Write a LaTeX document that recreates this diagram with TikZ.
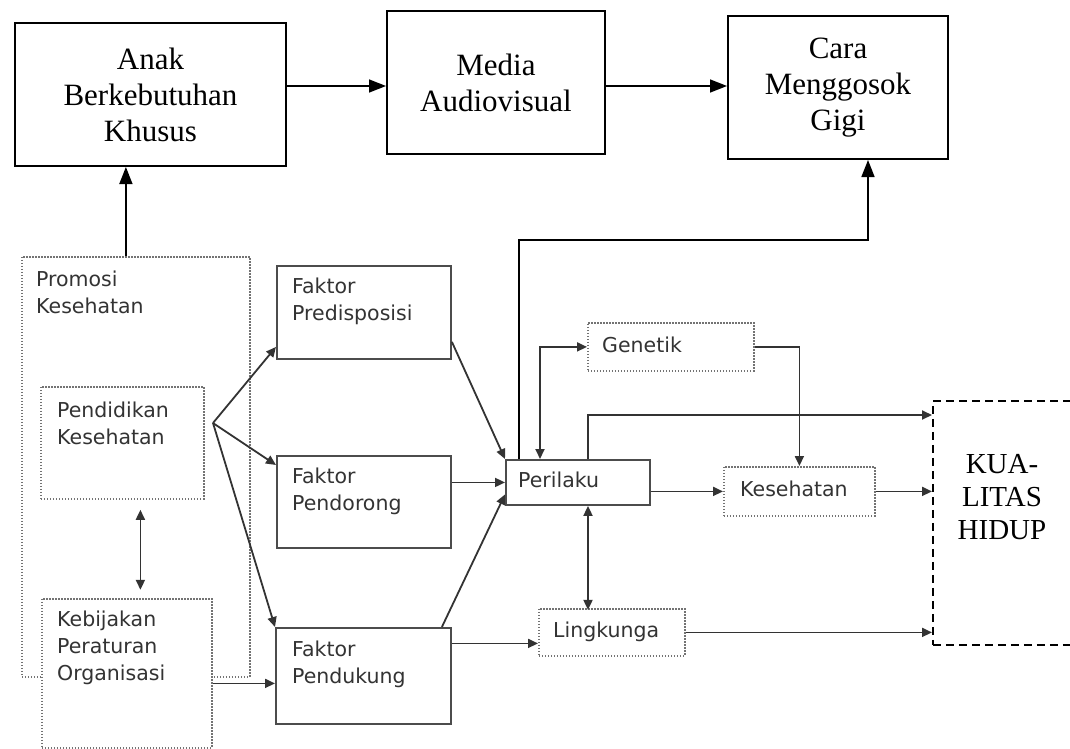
\documentclass[tikz,border=0pt]{standalone}
\usepackage{fontspec}
\setmainfont{Liberation Serif}
\newfontfamily\verdfont{DejaVu Sans}
\usetikzlibrary{positioning,arrows.meta}

\begin{document}
\begin{tikzpicture}[x=1pt,y=-1pt,
    topbox/.style={draw,line width=2pt,align=center,inner sep=0pt,anchor=north west,
      font=\fontsize{31}{36}\selectfont},
    solidbox/.style={draw=black!70,line width=1.9pt,inner sep=0pt,anchor=north west},
    dotbox/.style={draw=black!55,dash pattern=on 1.5pt off 1.5pt,line width=1.8pt,inner sep=0pt,anchor=north west},
    txt/.style={align=left,inner sep=0pt,text=black!80,
      font=\verdfont\fontsize{20.5}{27}\selectfont},
    bigarrow/.style={-{Triangle[length=17pt,width=13pt]},line width=1.6pt},
    arrow/.style={-{Triangle[length=10pt,width=9pt]},draw=black!80,line width=1.8pt},
    twoarrow/.style={{Triangle[length=10pt,width=9pt]}-{Triangle[length=10pt,width=9pt]},
      draw=black!80,line width=1.8pt}]
  \useasboundingbox (0,0) rectangle (1070,749);

  % top row
  \node[topbox,minimum width=271pt,minimum height=143pt] (anak) at (14,22) {Anak\\Berkebutuhan\\Khusus};
  \node[topbox,minimum width=218pt,minimum height=143pt] (media) at (386,10) {Media\\Audiovisual};
  \node[topbox,minimum width=220pt,minimum height=143pt] (cara) at (727,15) {Cara\\Menggosok\\Gigi};
  \draw[bigarrow] ([yshift=8.5pt]anak.east) -- ([yshift=8.5pt]anak.east -| media.west);
  \draw[bigarrow] ([yshift=-3.5pt]media.east) -- ([yshift=-3.5pt]media.east -| cara.west);

  % left column
  \node[dotbox,minimum width=228pt,minimum height=420pt] (promosi) at (21,256) {};
  \node[txt,below right=15pt and 15pt of promosi.north west] (promositext) {Promosi\\Kesehatan};
  \node[dotbox,minimum width=163pt,minimum height=112pt] (pendidikan) at (40,386) {};
  \node[txt,below right=16pt and 17pt of pendidikan.north west] (pendidikantext) {Pendidikan\\Kesehatan};
  \node[dotbox,fill=white,minimum width=170pt,minimum height=149pt] (kebijakan) at (41,598) {};
  \node[txt,below right=13pt and 16pt of kebijakan.north west] (kebijakantext) {Kebijakan\\Peraturan\\Organisasi};

  % faktor
  \node[solidbox,minimum width=174pt,minimum height=93pt] (pred) at (276,265) {};
  \node[txt,below right=13pt and 16pt of pred.north west] (predtext) {Faktor\\Predisposisi};
  \node[solidbox,minimum width=174pt,minimum height=92pt] (pendorong) at (276,455) {};
  \node[txt,below right=13pt and 16pt of pendorong.north west] (pendorongtext) {Faktor\\Pendorong};
  \node[solidbox,minimum width=175pt,minimum height=96pt] (pendukung) at (275,627) {};
  \node[txt,below right=14pt and 17pt of pendukung.north west] (pendukungtext) {Faktor\\Pendukung};

  % middle and right
  \node[solidbox,minimum width=144pt,minimum height=45pt] (perilaku) at (505,459) {};
  \node[txt,below right=13pt and 13pt of perilaku.north west] (perilakutext) {Perilaku};
  \node[dotbox,minimum width=166pt,minimum height=48pt] (genetik) at (587,322) {};
  \node[txt,below right=15pt and 15pt of genetik.north west] (genetiktext) {Genetik};
  \node[dotbox,minimum width=151pt,minimum height=49pt] (kesehatan) at (723,466) {};
  \node[txt,below right=15pt and 17pt of kesehatan.north west] (kesehatantext) {Kesehatan};
  \node[dotbox,minimum width=146pt,minimum height=47pt] (lingkunga) at (538,608) {};
  \node[txt,below right=14pt and 15pt of lingkunga.north west] (lingkungatext) {Lingkunga};
  \node[draw,line width=1.8pt,dash pattern=on 8pt off 5pt,inner sep=0pt,anchor=north west,
    minimum width=142pt,minimum height=244pt] (kualitas) at (932,400) {};
  \node[align=center,inner sep=0pt,font=\fontsize{29}{33}\selectfont] (kualitastext) at (1002,497) {KUA-\\LITAS\\HIDUP};

  % connectors
  \draw[bigarrow] ([xshift=-10pt]promosi.north) -- ([xshift=-10pt]promosi.north |- anak.south);
  \draw[bigarrow] ([xshift=14pt]perilaku.north west) -- ++(0,-219) -| ([xshift=30pt]cara.south);
  \draw[twoarrow] ([xshift=18pt,yshift=-10pt]pendidikan.south) -- ++(0,80);
  \coordinate (fan) at (213,423);
  \draw[arrow] (fan) -- ([yshift=13pt]pred.south west);
  \draw[arrow] (fan) -- ([yshift=-10pt]pendorong.north west);
  \draw[arrow] (fan) -- (pendukung.north west);
  \draw[arrow] ([yshift=-10pt]kebijakan.east) -- ([yshift=-10pt]kebijakan.east -| pendukung.west);
  \draw[arrow] ([yshift=18pt]pred.south east) -- (perilaku.north west);
  \draw[arrow] (pendorong.east |- perilaku.west) -- (perilaku.west);
  \draw[arrow] ([xshift=-10pt]pendukung.north east) -- ([yshift=-12pt]perilaku.west);
  \draw[arrow] ([yshift=-11pt]lingkunga.west -| pendukung.east) -- ([yshift=-11pt]lingkunga.west);
  \draw[twoarrow] ([xshift=35pt]perilaku.north west) |- (genetik.west);
  \draw[arrow] (genetik.east) -| (kesehatan.north);
  \draw[arrow] (kesehatan.west -| perilaku.east) -- (kesehatan.west);
  \draw[arrow] (kesehatan.east) -- (kesehatan.east -| kualitas.west);
  \draw[arrow] ([xshift=83pt]perilaku.north west) |- ([yshift=-15pt]kualitas.north west);
  \draw[twoarrow] ([xshift=83pt]perilaku.south west) -- ++(0,104);
  \draw[arrow] (lingkunga.east) -- (lingkunga.east -| kualitas.west);
\end{tikzpicture}
\end{document}
